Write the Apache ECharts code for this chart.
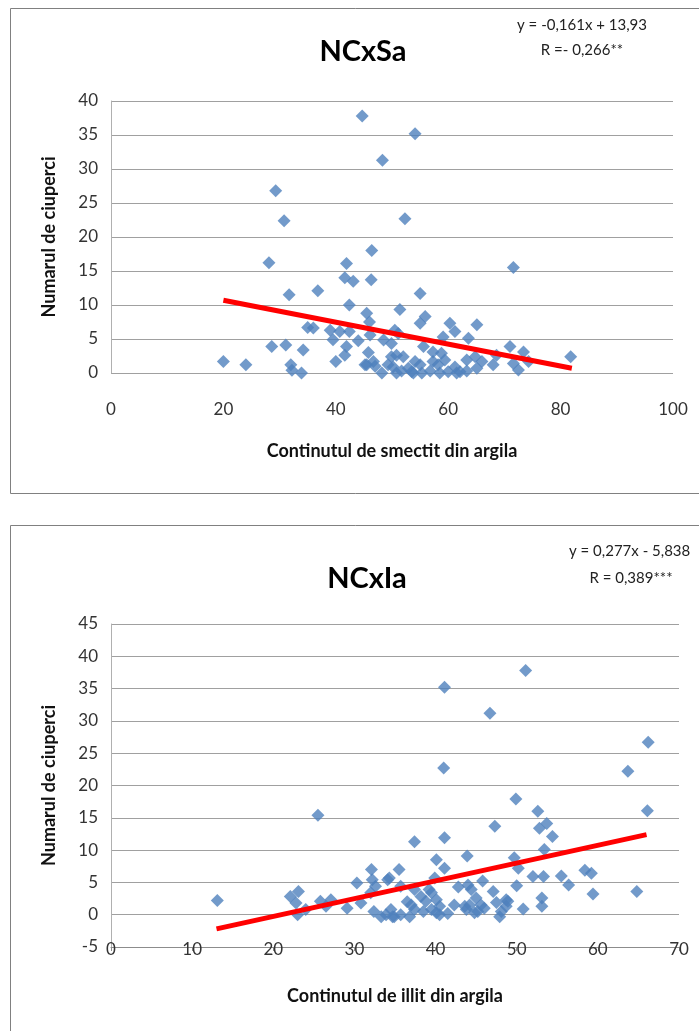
<!DOCTYPE html>
<html lang="ro">
<head>
    <meta charset="UTF-8">
    <title>NCxSa / NCxIa</title>
    <script src="https://cdn.jsdelivr.net/npm/echarts@6/dist/echarts.min.js"></script>
</head>
<style>
    html,body{
        margin:0;
        padding:0;
        background:#fff;
    }
    #main{
        width:699px;
        height:1031px;
    }
</style>
<body>
    <div id="main"></div>
</body>
</html>

<script>
    // NCxSa - continutul de smectit
    let smectitX=[20,24,28.1,28.6,29.3,30.8,31.1,31.7,32,32.2,33.9,34.2,35,36,36.8,39,39.5,40,40.7,41.6,
        41.6,41.9,41.9,42.4,42.4,43.1,44,44.7,45.2,45.5,45.8,46,46.1,46.3,46.4,46.7,47,48.2,48.3,48.5,
        49.3,49.9,50.2,50.8,50.8,51.1,51.4,51.7,52,52.3,52.9,53.5,54.1,54.1,55,55,55,55.3,55.6,55.9,
        56.8,57.3,57.3,58.2,58.5,58.8,59.1,59.4,60,60.3,61.2,61.2,61.5,62.1,63.3,63.3,63.6,64.8,65.1,65.1,
        66,68,68.6,71,71.6,71.6,72.5,73.4,74.3,81.8,49.9,50.5,45.5,53.8];
    let smectitY=[1.7,1.2,16.2,3.9,26.8,22.4,4.1,11.5,1.2,0.4,0,3.4,6.7,6.6,12.1,6.3,4.9,1.7,6.1,2.6,
        14,16.1,3.9,10,6.1,13.5,4.75,37.8,1.2,8.8,3,7.5,5.6,13.7,18,1.7,1,0,31.3,4.85,
        1.2,4.35,0.9,2.6,0,5.8,9.35,0.3,2.4,22.7,0.7,0.2,35.2,1.7,11.7,7.3,1.2,0,3.9,8.3,
        0.3,3.1,1.7,1.2,0,2.9,5.3,1.9,0.2,7.3,6.1,0.9,0,0.2,1.9,0.3,5.1,2.4,7.1,0.7,
        1.7,1.2,2.6,3.9,15.5,1.4,0.45,3.1,1.7,2.4,2.4,6.3,1.2,0];
    let smectitTrendX=[20,82];
    let smectitTrendY=[10.7,0.7];

    // NCxIa - continutul de illit
    let illitX=[13.1,25.5,22.1,23.1,22.8,23,24,25.8,27.1,26.5,29.1,30.3,30.8,32.1,32.2,32.6,32,34.1,32.4,33.3,
        34.5,34.9,35.5,51.1,41.1,46.7,66.2,63.7,41,49.9,52.6,66.1,53.7,52.8,47.3,54.4,41.1,37.4,53.4,43.9,
        40.1,41.1,49.7,50.2,34.3,39.9,44,45.8,47.1,50,52,53.3,55.5,56.4,58.4,59.2,59.4,64.8,53.1,53.1,
        50.8,47.9,48.9,48.7,45,45.6,46,45.2,43.6,44.2,42.3,40.1,40.5,39.5,36.8,37.4,35.7,34.7,33.9,38.2,
        38.8,39.5,35.7,37.4,39.2,36.5,37,38.5,41.5,42.8,47.5,44.4,43.8,44.8,40.5,40.1,48.1,48.7];
    let illitY=[2.2,15.4,2.8,3.6,1.8,0,0.8,2.1,2.3,1.3,1,4.9,1.8,7,5.4,4.4,3.4,5.4,0.5,-0.3,
        0.8,-0.3,7,37.8,35.2,31.2,26.7,22.2,22.7,17.9,16,16.1,14.1,13.4,13.7,12.1,11.9,11.3,10.1,9.1,
        8.5,7.2,8.8,7.2,5.7,5.7,4.6,5.2,3.6,4.5,5.9,5.9,6,4.6,6.9,6.4,3.2,3.6,2.6,1.3,
        0.9,-0.3,2.1,1.3,2.6,1.5,1,0.5,1.3,1.5,1.5,0.3,1.3,0.8,-0.3,0.8,0,-0.3,0,2.8,
        2.1,3.4,4.4,3.9,3.9,2,1.5,0.5,0.2,4.3,1.9,3.9,0.8,0.3,0,2.3,0.5,2.3];
    let illitTrendX=[13,66];
    let illitTrendY=[-2.2,12.4];

    function pairs(xs,ys){
        return xs.map(function(x,i){ return [x,ys[i]]; });
    }

    let font='Lato, sans-serif';
    let blue='#4F81BD';

    let chart=echarts.init(document.getElementById('main'));

    chart.setOption({
        animation:false,
        textStyle:{fontFamily:font},
        title:[
            {text:'NCxSa',left:358,top:32,textAlign:'center',
                textStyle:{fontSize:29,fontWeight:'bold',color:'#000',fontFamily:font}},
            {text:'y = -0,161x + 13,93',left:577,top:13,textAlign:'center',
                textStyle:{fontSize:15,fontWeight:'normal',color:'#222',fontFamily:font}},
            {text:'R =- 0,266**',left:577,top:38,textAlign:'center',
                textStyle:{fontSize:15,fontWeight:'normal',color:'#222',fontFamily:font}},
            {text:'NCxIa',left:362,top:559,textAlign:'center',
                textStyle:{fontSize:29,fontWeight:'bold',color:'#000',fontFamily:font}},
            {text:'y = 0,277x - 5,838',left:564,top:539,
                textStyle:{fontSize:15,fontWeight:'normal',color:'#222',fontFamily:font}},
            {text:'R = 0,389***',left:626,top:566,textAlign:'center',
                textStyle:{fontSize:15,fontWeight:'normal',color:'#222',fontFamily:font}}
        ],
        graphic:[
            {type:'rect',shape:{x:10.5,y:8.5,width:720,height:485},
                style:{fill:'none',stroke:'#808080',lineWidth:1},silent:true},
            {type:'rect',shape:{x:10.5,y:525.5,width:720,height:520},
                style:{fill:'none',stroke:'#808080',lineWidth:1},silent:true}
        ],
        grid:[
            {left:111,top:101,width:562,height:272},
            {left:111,top:624,width:568,height:323}
        ],
        xAxis:[
            {
                type:'value',gridIndex:0,min:0,max:100,interval:20,
                name:'Continutul de smectit din argila',nameLocation:'middle',nameGap:69,
                nameTextStyle:{fontSize:18,fontWeight:'bold',color:'#111'},
                axisLine:{show:false},axisTick:{show:false},
                axisLabel:{fontSize:17,color:'#333',margin:28},
                splitLine:{show:false}
            },
            {
                type:'value',gridIndex:1,min:0,max:70,interval:10,
                name:'Continutul de illit din argila',nameLocation:'middle',nameGap:40,
                nameTextStyle:{fontSize:18,fontWeight:'bold',color:'#111'},
                axisLine:{show:true,onZero:false,lineStyle:{color:'#8c8c8c'}},
                axisTick:{show:true,inside:false,length:4,lineStyle:{color:'#8c8c8c'}},
                axisLabel:{fontSize:17,color:'#333',margin:-6},
                splitLine:{show:false}
            }
        ],
        yAxis:[
            {
                type:'value',gridIndex:0,min:0,max:40,interval:5,
                name:'Numarul de ciuperci',nameLocation:'middle',nameGap:53,
                nameTextStyle:{fontSize:18,fontWeight:'bold',color:'#111'},
                axisLine:{show:true,lineStyle:{color:'#b0b0b0'}},axisTick:{show:false},
                axisLabel:{fontSize:17,color:'#333',margin:13},
                splitLine:{lineStyle:{color:'#a0a0a0',width:1}}
            },
            {
                type:'value',gridIndex:1,min:-5,max:45,interval:5,
                name:'Numarul de ciuperci',nameLocation:'middle',nameGap:53,
                nameTextStyle:{fontSize:18,fontWeight:'bold',color:'#111'},
                axisLine:{show:true,lineStyle:{color:'#b0b0b0'}},axisTick:{show:false},
                axisLabel:{fontSize:17,color:'#333',margin:13},
                splitLine:{lineStyle:{color:'#a0a0a0',width:1}}
            }
        ],
        series:[
            {
                name:'NCxSa',type:'scatter',xAxisIndex:0,yAxisIndex:0,
                symbol:'diamond',symbolSize:13,
                itemStyle:{color:blue},
                data:pairs(smectitX,smectitY)
            },
            {
                name:'Linear (NCxSa)',type:'line',xAxisIndex:0,yAxisIndex:0,
                showSymbol:false,
                lineStyle:{color:'#ff0000',width:5},
                data:pairs(smectitTrendX,smectitTrendY)
            },
            {
                name:'NCxIa',type:'scatter',xAxisIndex:1,yAxisIndex:1,
                symbol:'diamond',symbolSize:13,
                itemStyle:{color:blue},
                data:pairs(illitX,illitY)
            },
            {
                name:'Linear (NCxIa)',type:'line',xAxisIndex:1,yAxisIndex:1,
                showSymbol:false,
                lineStyle:{color:'#ff0000',width:5},
                data:pairs(illitTrendX,illitTrendY)
            }
        ]
    });
</script>
